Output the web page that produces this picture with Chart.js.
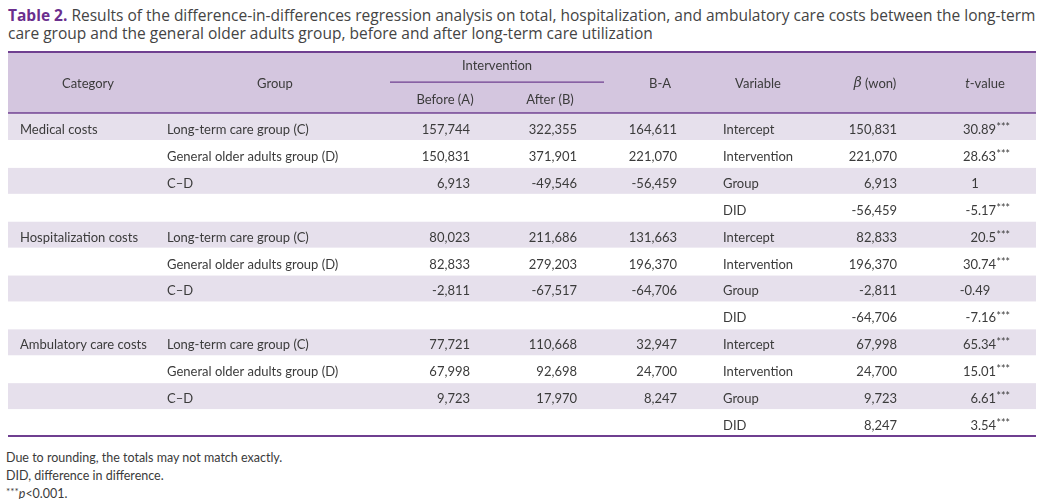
<!DOCTYPE html>
<html>
<head>
<meta charset="utf-8">
<script src="https://cdn.jsdelivr.net/npm/chart.js@4"></script>
<style>
  body { margin: 0; background: #fff; width: 1041px; height: 499px; overflow: hidden; position: relative; }
  .title { position: absolute; left: 8px; top: 6px; font-family: "Open Sans", sans-serif; font-size: 14.5px; line-height: 18px; color: #444; white-space: nowrap; }
  .title b { color: #6b2f8e; }
  .wrap { position: absolute; left: 0; top: 50px; width: 1041px; height: 388px; }
  .notes { position: absolute; left: 6px; top: 449px; font-family: Lato, sans-serif; font-size: 12.5px; line-height: 18px; color: #3b3b3b; }
  .notes sup { font-size: 10px; vertical-align: 3px; line-height: 0; }
</style>
</head>
<body>
<div class="title"><span id="line1"><b>Table 2.</b> Results of the difference-in-differences regression analysis on total, hospitalization, and ambulatory care costs between the long-term</span><br>care group and the general older adults group, before and after long-term care utilization</div>
<div class="wrap"><canvas id="table"></canvas></div>
<div class="notes">Due to rounding, the totals may not match exactly.<br>DID, difference in difference.<br><sup>***</sup><i>p</i>&lt;0.001.</div>
<script>
// table data
const categories = ['Medical costs', 'Hospitalization costs', 'Ambulatory care costs'];
const groups = ['Long-term care group (C)', 'General older adults group (D)', 'C–D'];
const variables = ['Intercept', 'Intervention', 'Group', 'DID'];
const beforeA = [157744, 150831, 6913, 80023, 82833, -2811, 77721, 67998, 9723];
const afterB = [322355, 371901, -49546, 211686, 279203, -67517, 110668, 92698, 17970];
const diffBA = [164611, 221070, -56459, 131663, 196370, -64706, 32947, 24700, 8247];
const betaWon = [150831, 221070, 6913, -56459, 82833, 196370, -2811, -64706, 67998, 24700, 9723, 8247];
const tValues = [30.89, 28.63, 1, -5.17, 20.5, 30.74, -0.49, -7.16, 65.34, 15.01, 6.61, 3.54];
const tStars = ['***', '***', '', '***', '***', '***', '', '***', '***', '***', '***', '***'];

const fmt = v => v.toLocaleString('en-US');

// stretch the caption so its first line spans the table width
const title = document.querySelector('.title');
const line1 = document.getElementById('line1');
const fs = 14.5 * 1028 / line1.getBoundingClientRect().width;
title.style.fontSize = fs.toFixed(2) + 'px';

// layout (x in page px, y in row units)
const hdrRows = 2.27;
const nRows = categories.length * variables.length;
const tableLeft = 8, tableRight = 1036;
const purple = '#6f3f90';
const textColor = '#3b3b3b';
const cellFont = '13px Lato, sans-serif';

const tablePlugin = {
  id: 'tableCells',
  beforeDatasetsDraw(chart) {
    const { ctx, scales: { x, y } } = chart;
    const xl = x.getPixelForValue(tableLeft), xr = x.getPixelForValue(tableRight);
    ctx.save();
    // header background
    ctx.fillStyle = '#d4c6df';
    ctx.fillRect(xl, y.getPixelForValue(0), xr - xl, y.getPixelForValue(hdrRows) - y.getPixelForValue(0));
    // striped rows
    ctx.fillStyle = '#e6e0ec';
    for (let r = 0; r < nRows; r += 2) {
      const y0 = y.getPixelForValue(hdrRows + r), y1 = y.getPixelForValue(hdrRows + r + 1);
      ctx.fillRect(xl, y0 + 1, xr - xl, y1 - y0 - 1);
    }
    // rules
    const hline = (v, x0, x1, w) => {
      ctx.strokeStyle = purple;
      ctx.lineWidth = w;
      ctx.beginPath();
      ctx.moveTo(x.getPixelForValue(x0), y.getPixelForValue(v));
      ctx.lineTo(x.getPixelForValue(x1), y.getPixelForValue(v));
      ctx.stroke();
    };
    hline(0, tableLeft, tableRight, 2);
    hline(1.12, 390, 604, 1.3);
    hline(hdrRows, tableLeft, tableRight, 1.5);
    hline(hdrRows + nRows, tableLeft, tableRight, 2);
    ctx.restore();
  },
  afterDatasetsDraw(chart) {
    const { ctx, scales: { x, y } } = chart;
    ctx.save();
    ctx.fillStyle = textColor;
    ctx.textBaseline = 'middle';

    // header: runs of [text, font] centred on a column
    const runs = (parts, cx, cy) => {
      let w = 0;
      parts.forEach(p => { ctx.font = p[1]; w += ctx.measureText(p[0]).width; });
      let px = x.getPixelForValue(cx) - w / 2;
      ctx.textAlign = 'left';
      parts.forEach(p => {
        ctx.font = p[1];
        ctx.fillText(p[0], px, y.getPixelForValue(cy));
        px += ctx.measureText(p[0]).width;
      });
    };
    const it = 'italic 13px Lato, sans-serif';
    const mid = hdrRows / 2 + 0.04;
    runs([['Category', cellFont]], 88, mid);
    runs([['Group', cellFont]], 275, mid);
    runs([['Intervention', cellFont]], 497, 0.5);
    runs([['Before (A)', cellFont]], 445, 1.77);
    runs([['After (B)', cellFont]], 550, 1.77);
    runs([['B-A', cellFont]], 660, mid);
    runs([['Variable', cellFont]], 758, mid);
    runs([['β', 'italic 14px "DejaVu Serif", serif'], [' (won)', cellFont]], 875, mid);
    runs([['t', it], ['-value', cellFont]], 985, mid);

    const cell = (text, cx, row, align) => {
      ctx.font = cellFont;
      ctx.textAlign = align;
      ctx.fillText(text, x.getPixelForValue(cx), y.getPixelForValue(hdrRows + row + 0.62));
    };

    categories.forEach((cat, s) => {
      const base = s * variables.length;
      cell(cat, 20, base, 'left');
      groups.forEach((g, k) => {
        const i = s * groups.length + k;
        cell(g, 167, base + k, 'left');
        cell(fmt(beforeA[i]), 470, base + k, 'right');
        cell(fmt(afterB[i]), 577, base + k, 'right');
        cell(fmt(diffBA[i]), 677, base + k, 'right');
      });
      variables.forEach((v, k) => {
        const i = base + k;
        cell(v, 723, i, 'left');
        cell(fmt(betaWon[i]), 897, i, 'right');
        if (tStars[i]) {
          ctx.font = '10.5px Lato, sans-serif';
          const sw = ctx.measureText(tStars[i]).width;
          ctx.textAlign = 'right';
          ctx.fillText(tStars[i], x.getPixelForValue(1010), y.getPixelForValue(hdrRows + i + 0.62) - 2);
          cell(String(tValues[i]), 1010 - sw - 0.5, i, 'right');
        } else {
          cell(String(tValues[i]), 975, i, 'center');
        }
      });
    });
    ctx.restore();
  }
};

new Chart(document.getElementById('table'), {
  type: 'scatter',
  data: { datasets: [] },
  options: {
    responsive: true,
    maintainAspectRatio: false,
    animation: false,
    layout: { padding: { left: 0, right: 0, top: 2, bottom: 2 } },
    plugins: { legend: { display: false }, tooltip: { enabled: false } },
    scales: {
      x: { type: 'linear', min: 0, max: 1041, display: false },
      y: { type: 'linear', min: 0, max: hdrRows + nRows, reverse: true, display: false }
    }
  },
  plugins: [tablePlugin]
});
</script>
</body>
</html>
